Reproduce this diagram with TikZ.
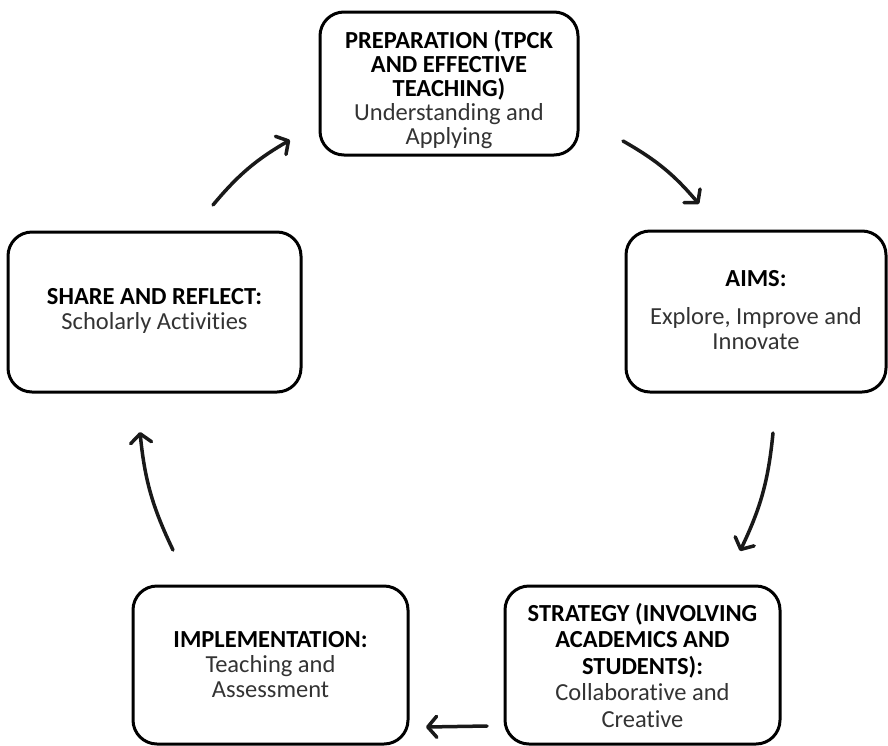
\documentclass[tikz,border=0pt]{standalone}
\usepackage{fontspec}
\setmainfont[Ligatures=NoCommon]{Carlito}
\usetikzlibrary{arrows.meta}
\begin{document}
\begin{tikzpicture}[x=1pt,y=-1pt,
  box/.style={draw, line width=3pt, rounded corners=24pt, inner sep=0pt},
  lbl/.style={align=center, inner sep=0pt, font=\fontsize{24.5}{25}\selectfont, text=black!80},
  arr/.style={line width=3.5pt, line cap=round, black!90,
    -{Straight Barb[length=9pt,width=21pt,line width=3.5pt,round]}},
]
\useasboundingbox (0,0) rectangle (888,745);
% boxes
\node[box, minimum width=258pt, minimum height=143pt] (prep)  at (449,83.5) {};
\node[box, minimum width=260pt, minimum height=161pt] (aims)  at (756,311.5) {};
\node[box, minimum width=293pt, minimum height=160pt] (share) at (154.5,312) {};
\node[box, minimum width=275pt, minimum height=158pt] (strat) at (642.5,665) {};
\node[box, minimum width=275pt, minimum height=158pt] (impl)  at (270.5,665) {};
% labels
\node[lbl, font=\fontsize{24.5}{24}\selectfont] (prept) at (449,89.5) {\textbf{\color{black}PREPARATION (TPCK}\\\textbf{\color{black}AND EFFECTIVE}\\\textbf{\color{black}TEACHING)}\\Understanding and\\Applying};
\node[lbl] (aimst) at (756,310) {\textbf{\color{black}AIMS:}\\[13pt]Explore, Improve and\\Innovate};
\node[lbl] (sharet) at (154.5,311) {\textbf{\color{black}SHARE AND REFLECT:}\\Scholarly Activities};
\node[lbl, font=\fontsize{24.5}{26.5}\selectfont] (stratt) at (642.5,665) {\textbf{\color{black}STRATEGY (INVOLVING}\\\textbf{\color{black}ACADEMICS AND}\\\textbf{\color{black}STUDENTS):}\\Collaborative and\\Creative};
\node[lbl] (implt) at (270.5,665) {\textbf{\color{black}IMPLEMENTATION:}\\Teaching and\\Assessment};
% arrow end points
\coordinate (a1s) at (213,205); \coordinate (a1e) at (290,140);
\coordinate (a2s) at (623,141); \coordinate (a2e) at (699,204);
\coordinate (a3s) at (773,433); \coordinate (a3e) at (740,551);
\coordinate (a4s) at (173,550); \coordinate (a4e) at (140,432);
\coordinate (a5s) at (487,726); \coordinate (a5e) at (426,727);
\draw[arr] (a1s) to[bend left=10] (a1e);
\draw[arr] (a2s) to[bend left=10] (a2e);
\draw[arr] (a3s) to[bend left=10] (a3e);
\draw[arr] (a4s) to[bend left=10] (a4e);
\draw[arr] (a5s) -- (a5e);
\end{tikzpicture}
\end{document}
